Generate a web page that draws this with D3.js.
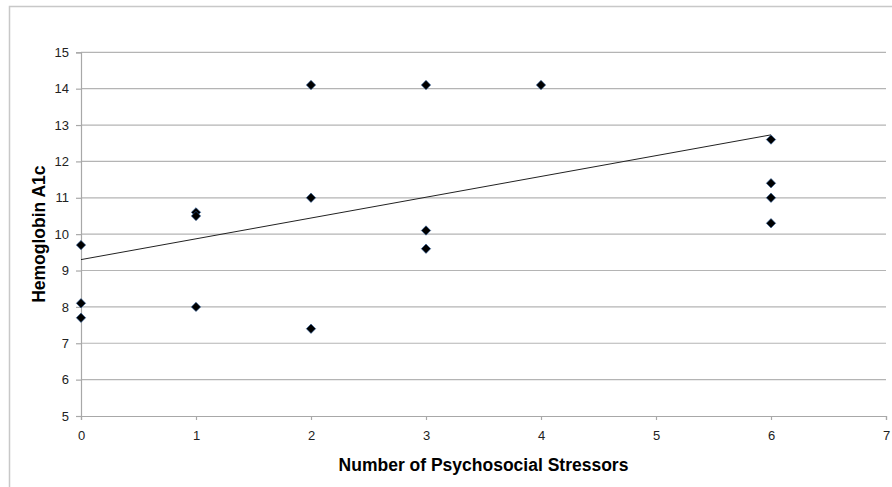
<!DOCTYPE html>
<html><head><meta charset="utf-8">
<script src="https://cdn.jsdelivr.net/npm/d3@7"></script>
<style>body{margin:0;background:#fff;}svg{display:block;}</style>
</head><body>
<svg id="c" width="892" height="487"></svg>
<script>
const xs = [0,0,0,1,1,1,2,2,2,3,3,3,4,6,6,6,6];
const ys = [9.7,8.1,7.7,10.6,10.5,8.0,14.1,11.0,7.4,14.1,10.1,9.6,14.1,12.6,11.4,11.0,10.3];
const trendX = [0,6];
const trendY = [9.3,12.73];
const xTicks = [0,1,2,3,4,5,6,7];
const yTicks = [5,6,7,8,9,10,11,12,13,14,15];
const xTitle = "Number of Psychosocial Stressors";
const yTitle = "Hemoglobin A1c";

const svg = d3.select("#c");
const L=81, R=886, T=52.3, B=416;
const x = d3.scaleLinear().domain([0,7]).range([L,R]);
const y = d3.scaleLinear().domain([5,15]).range([B,T]);

// outer frame
svg.append("path").attr("d","M9.5,487 L9.5,6.5 L892,6.5").attr("fill","none").attr("stroke","#c8c8c8").attr("stroke-width",1.5);

// gridlines
svg.append("g").selectAll("line").data(yTicks.filter(d=>d>5)).join("line")
  .attr("x1",L).attr("x2",R).attr("y1",d=>y(d)).attr("y2",d=>y(d))
  .attr("stroke","#b4b4b4").attr("stroke-width",1.2);

const gx = svg.append("g").attr("transform",`translate(0,${B})`)
  .call(d3.axisBottom(x).tickValues(xTicks).tickSize(4).tickPadding(11).tickFormat(d3.format("d")));
const gy = svg.append("g").attr("transform",`translate(${L},0)`)
  .call(d3.axisLeft(y).tickValues(yTicks).tickSize(5).tickPadding(7).tickFormat(d3.format("d")));
[gx,gy].forEach(g=>{
  g.selectAll("path,line").attr("stroke","#a8a8a8").attr("stroke-width",1.2);
  g.selectAll("text").attr("font-family","Liberation Sans, Arial, sans-serif").attr("font-size",13).attr("fill","#222");
});

// trendline
svg.append("line").attr("x1",x(trendX[0])).attr("y1",y(trendY[0])).attr("x2",x(trendX[1])).attr("y2",y(trendY[1]))
  .attr("stroke","#222").attr("stroke-width",1);

// points
svg.append("g").selectAll("path").data(xs.map((d,i)=>[d,ys[i]])).join("path")
  .attr("d",d3.symbol(d3.symbolDiamond2 || d3.symbolDiamond,56))
  .attr("transform",d=>`translate(${x(d[0])},${y(d[1])})`)
  .attr("fill","#000").attr("stroke","#2a5d9c").attr("stroke-width",0.6);

svg.append("text").attr("x",(L+R)/2).attr("y",471).attr("text-anchor","middle")
  .attr("font-family","Liberation Sans, Arial, sans-serif").attr("font-weight","bold").attr("font-size",17.5).attr("fill","#000").text(xTitle);
svg.append("text").attr("transform",`translate(45,${(T+B)/2}) rotate(-90)`).attr("text-anchor","middle")
  .attr("font-family","Liberation Sans, Arial, sans-serif").attr("font-weight","bold").attr("font-size",17.5).attr("fill","#000").text(yTitle);
</script>
</body></html>
